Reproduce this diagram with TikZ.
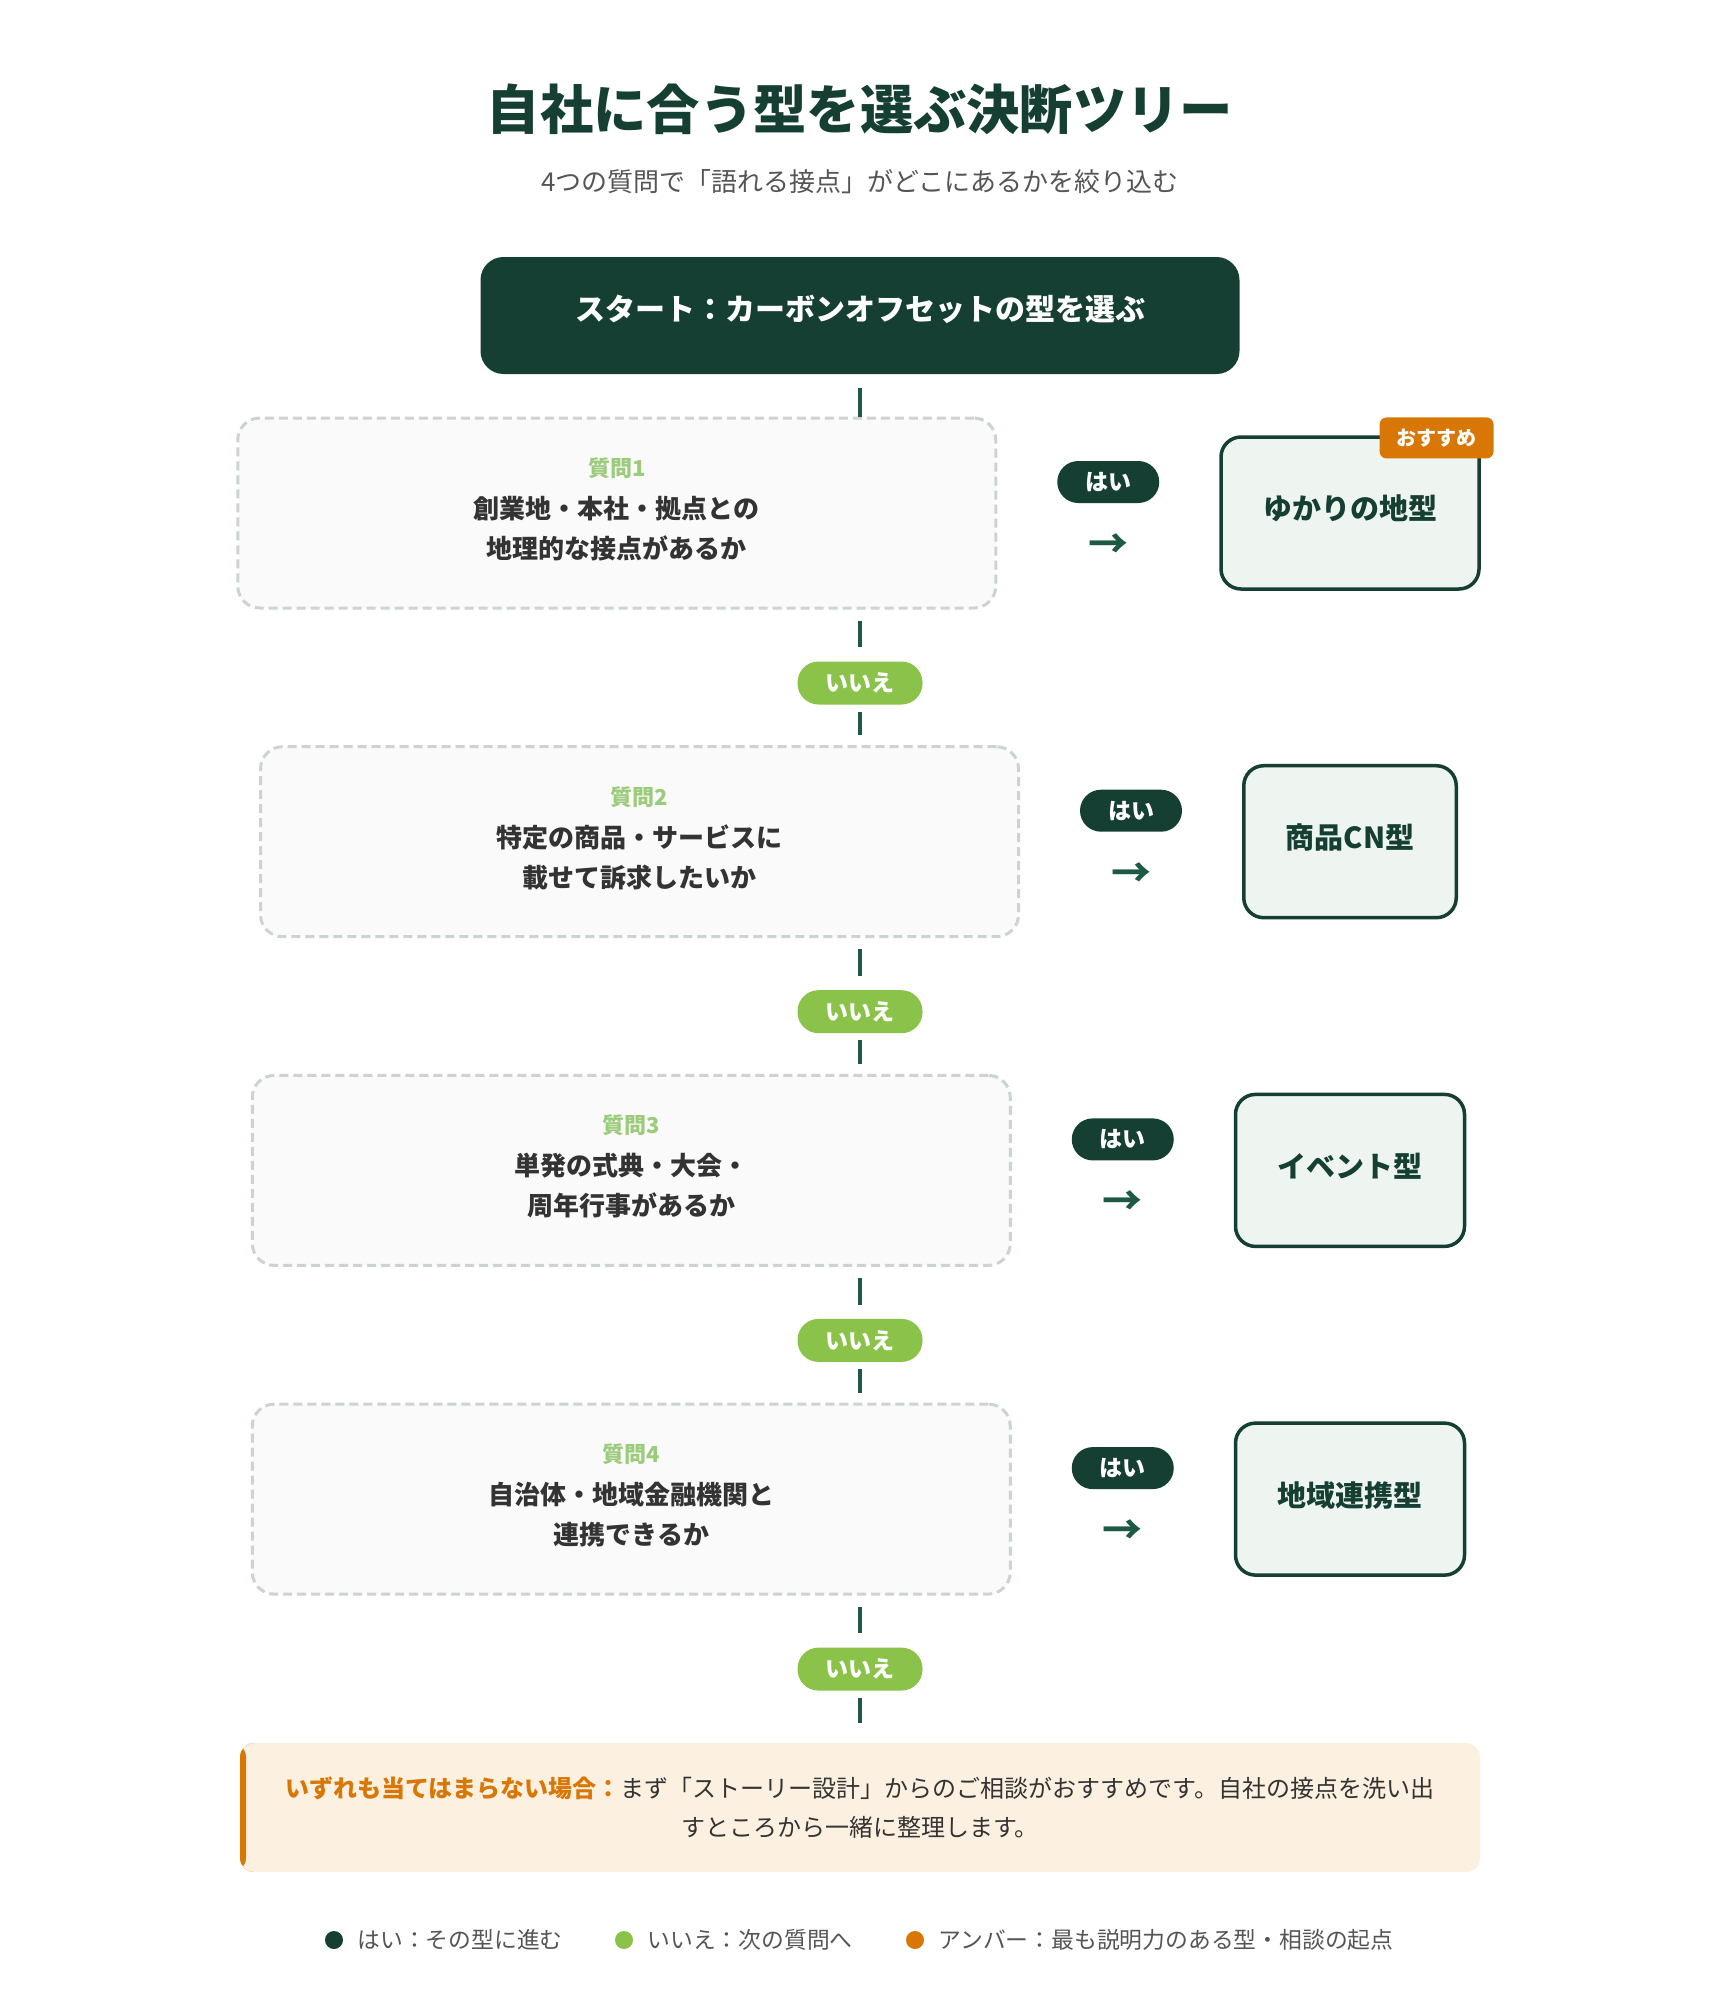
\documentclass[tikz,border=0pt]{standalone}
\usepackage{fontspec}
\setmainfont{Noto Sans CJK JP}
\usetikzlibrary{calc,positioning}

\definecolor{darkgreen}{HTML}{153F32}
\definecolor{linegreen}{HTML}{1D5A44}
\definecolor{leaf}{HTML}{8BC34A}
\definecolor{amber}{HTML}{D97706}
\definecolor{dashgray}{HTML}{CAD5CF}
\definecolor{qfill}{HTML}{FAFAFA}
\definecolor{rfill}{HTML}{EEF4EF}
\definecolor{notefill}{HTML}{FCF1E1}
\definecolor{txtdark}{HTML}{333333}
\definecolor{txtgray}{HTML}{555555}
\definecolor{qlab}{HTML}{9CCB7C}

\newcommand\fsz[2]{\fontsize{#1}{#2}\selectfont}

\begin{document}
\begin{tikzpicture}[x=1pt, y=-1pt,
  startbox/.style={fill=darkgreen, text=white, rounded corners=23pt, minimum width=759pt, minimum height=117pt, text height=22pt, text depth=12pt, font=\fsz{30}{36}\bfseries},
  qbox/.style={draw=dashgray, fill=qfill, line width=3pt, dash pattern=on 9pt off 5pt, rounded corners=22pt, minimum width=758pt, minimum height=190pt, align=center, text=txtdark, text depth=10pt, font=\fsz{26}{40}\bfseries},
  rbox/.style={draw=darkgreen, fill=rfill, line width=3.5pt, rounded corners=20pt, minimum height=152pt, inner xsep=42pt, text depth=11pt, text=darkgreen, font=\fsz{29}{35}\bfseries},
  yespill/.style={fill=darkgreen, text=white, rounded corners=21pt, minimum height=42pt, inner xsep=28pt, inner ysep=0pt, font=\fsz{23}{27}\bfseries},
  nopill/.style={yespill, fill=leaf, minimum height=43pt},
  arrowtxt/.style={text=linegreen, inner sep=0pt, font=\fsz{40}{44}\bfseries},
  badge/.style={fill=amber, text=white, rounded corners=7pt, minimum height=41pt, inner xsep=17pt, inner ysep=0pt, font=\fsz{20}{24}\bfseries},
  vline/.style={draw=linegreen, line width=4pt},
  legdot/.style={circle, minimum size=18pt, inner sep=0pt},
  legtext/.style={text=txtgray, inner sep=0pt, font=\fsz{22.8}{27}}
]
\fill[white] (0,0) rectangle (1720,2012);
\useasboundingbox (0,0) rectangle (1720,2012);

% heading
\node[text=darkgreen, font=\fsz{53.3}{60}\bfseries] (title) at (860,109) {自社に合う型を選ぶ決断ツリー};
\node[text=txtgray, font=\fsz{26}{30}] (subtitle) at (860,182) {4つの質問で「語れる接点」がどこにあるかを絞り込む};

% start
\node[startbox] (start) at (860,315.5) {スタート：カーボンオフセットの型を選ぶ};

% questions, answers and results
\foreach \n/\yy/\qa/\qb/\res in {1/513/創業地・本社・拠点との/地理的な接点があるか/ゆかりの地型,
  2/841.7/特定の商品・サービスに/載せて訴求したいか/商品CN型,
  3/1170.4/単発の式典・大会・/周年行事があるか/イベント型,
  4/1499.1/自治体・地域金融機関と/連携できるか/地域連携型}
  {
  \node[rbox] (r\n) at (1350,\yy) {\res};
  \node[qbox, left=222pt of r\n] (q\n) {{\fsz{22}{26}\color{qlab}質問\n}\\[2pt]\qa\\\qb};
  \node[yespill] (yes\n) at ($(q\n.east)!0.5!(r\n.west)+(0,-31)$) {はい};
  \node[arrowtxt] (ar\n) at ($(q\n.east)!0.5!(r\n.west)+(0,33)$) {→};
  \node[nopill] (no\n) at (860,\yy+170) {いいえ};
  }
\node[badge, anchor=north east] (rec) at ($(r1.north east)+(13,-18)$) {おすすめ};

% fallback note
\node[fill=notefill, rounded corners=14pt, minimum width=1240pt, minimum height=129pt, align=center, text=txtdark, font=\fsz{24}{39},
  path picture={\fill[amber] (path picture bounding box.north west) rectangle ([xshift=6pt]path picture bounding box.south west);}]
  (note) at (860,1807.5) {{\color{amber}\bfseries いずれも当てはまらない場合：}まず「ストーリー設計」からのご相談がおすすめです。自社の接点を洗い出\\すところから一緒に整理します。};

% connectors
\draw[vline] ($(start.south)+(0,14)$) -- (start.south |- q1.north);
\foreach \n in {1,2,3}
  {
  \pgfmathtruncatemacro\m{\n+1}
  \draw[vline] ($(no\n.north |- q\n.south)+(0,11)$) -- ($(no\n.north)+(0,-14)$);
  \draw[vline] ($(no\n.south)+(0,7)$) -- ($(no\n.south |- q\m.north)+(0,-10)$);
  }
\draw[vline] ($(no4.north |- q4.south)+(0,11)$) -- ($(no4.north)+(0,-14)$);
\draw[vline] ($(no4.south)+(0,7)$) -- ($(note.north)+(0,-20)$);

% legend
\node[legdot, fill=darkgreen] (d1) at (334,1940) {};
\node[legtext, right=14pt of d1] (l1) {はい：その型に進む};
\node[legdot, fill=leaf] (d2) at (624,1940) {};
\node[legtext, right=14pt of d2] (l2) {いいえ：次の質問へ};
\node[legdot, fill=amber] (d3) at (915,1940) {};
\node[legtext, right=14pt of d3] (l3) {アンバー：最も説明力のある型・相談の起点};
\end{tikzpicture}
\end{document}
